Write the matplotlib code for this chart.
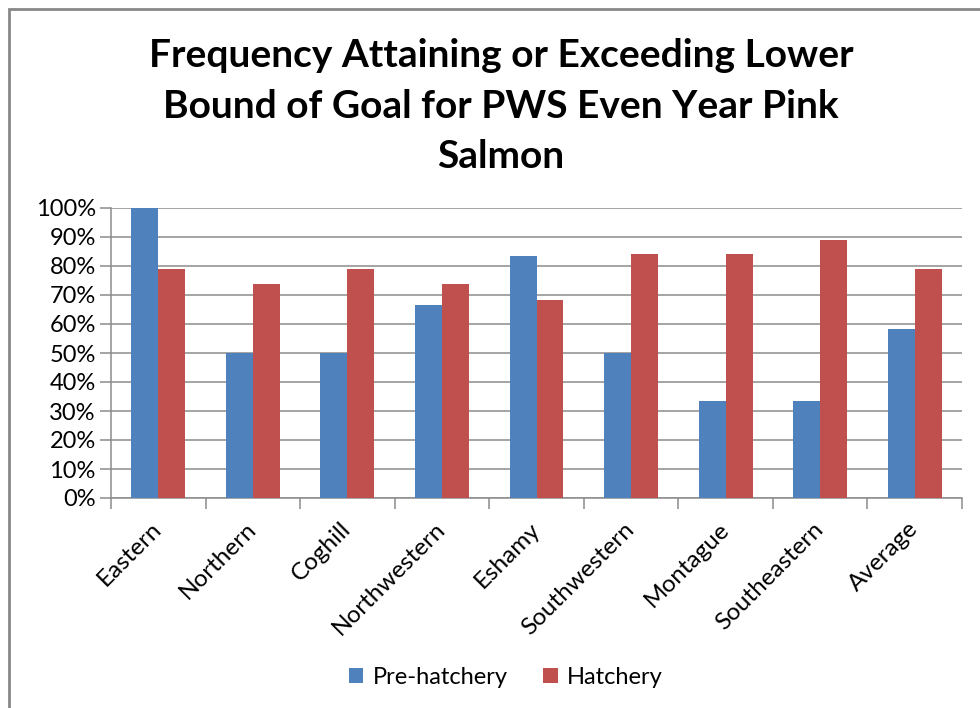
import numpy as np
import matplotlib.pyplot as plt
from matplotlib.patches import Rectangle
from matplotlib.ticker import FuncFormatter, FixedLocator

plt.rcParams['font.family'] = ['Lato', 'DejaVu Sans']

#--------------- Data ---------------
areas = ['Eastern', 'Northern', 'Coghill', 'Northwestern', 'Eshamy',
         'Southwestern', 'Montague', 'Southeastern', 'Average']
pre_hatchery = [100, 50, 50, 66.7, 83.3, 50, 33.3, 33.3, 58.3]
hatchery = [78.9, 73.7, 78.9, 73.7, 68.4, 84.2, 84.2, 88.9, 78.9]

title = 'Frequency Attaining or Exceeding Lower\nBound of Goal for PWS Even Year Pink\nSalmon'

W, H = 980, 708
fig = plt.figure(figsize=(W / 100, H / 100), dpi=100)
ax = fig.add_axes([111 / W, 1 - 498 / H, (962 - 111) / W, (498 - 208) / H])

x = np.arange(len(areas))
bw = 0.285
ax.bar(x - bw / 2, pre_hatchery, bw, color='#4F81BD', label='Pre-hatchery', zorder=3)
ax.bar(x + bw / 2, hatchery, bw, color='#C0504D', label='Hatchery', zorder=3)

ax.set_xlim(-0.5, len(areas) - 0.5)
ax.set_ylim(0, 100)
ax.set_yticks(np.arange(0, 101, 10))
ax.yaxis.set_major_formatter(FuncFormatter(lambda v, p: f'{int(v)}%'))
ax.grid(axis='y', color='#8c8c8c', lw=1.1, zorder=0)

# category boundary ticks, labels in between
ax.xaxis.set_major_locator(FixedLocator(np.arange(-0.5, len(areas), 1)))
ax.xaxis.set_ticklabels([])
ax.xaxis.set_minor_locator(FixedLocator(x))
ax.set_xticklabels(areas, minor=True, rotation=45, ha='right', va='center',
                   rotation_mode='anchor', fontsize=17.5)
ax.tick_params(axis='x', which='minor', length=0, pad=20)
ax.tick_params(axis='x', which='major', length=8, color='#8c8c8c', width=1.1)
ax.tick_params(axis='y', length=8, color='#8c8c8c', width=1.1, labelsize=17, pad=3)

for s in ['top', 'right']:
    ax.spines[s].set_visible(False)
for s in ['left', 'bottom']:
    ax.spines[s].set_color('#8c8c8c')
    ax.spines[s].set_linewidth(1.1)

fig.text(501 / W, 1 - 106 / H, title, ha='center', va='center',
         fontsize=28, fontweight='bold', linespacing=1.55)

fig.legend(loc='center', bbox_to_anchor=(506 / W, 1 - 677 / H), ncol=2,
           frameon=False, fontsize=17, handlelength=0.6, handleheight=0.6,
           handletextpad=0.4, columnspacing=1.5)

fig.patches.append(Rectangle((9 / W, -0.1), 1.2, 1.1 - 9 / H, transform=fig.transFigure,
                             fill=False, ec='#888888', lw=2))

fig.savefig('out.png', dpi=100)
